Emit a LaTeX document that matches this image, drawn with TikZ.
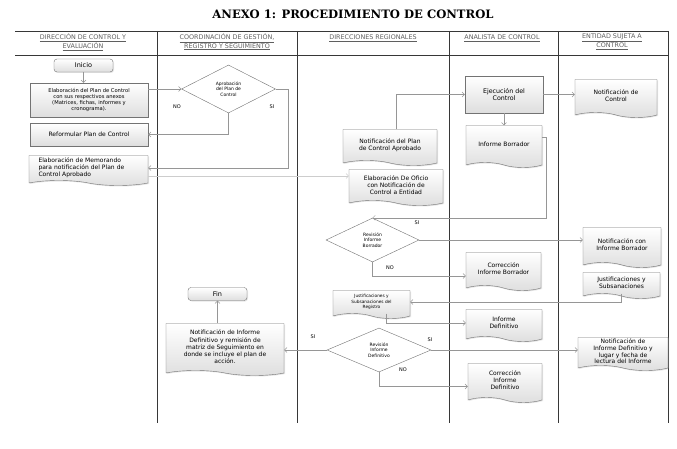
\documentclass[tikz,border=0pt]{standalone}
\usepackage{fontspec}
\setmainfont{DejaVu Sans}
\newfontfamily\titlefont{DejaVu Serif}
\usetikzlibrary{positioning,shapes.geometric,shapes.symbols,arrows.meta,shadows,calc}
\definecolor{myline}{RGB}{150,150,150}
\definecolor{myfaint}{RGB}{205,205,205}
\definecolor{mylane}{RGB}{55,55,55}
\definecolor{myedge}{RGB}{115,115,115}
\definecolor{myhead}{RGB}{95,95,95}
\definecolor{myshade}{RGB}{222,222,222}

\begin{document}
\begin{tikzpicture}[x=1pt,y=-1pt,
    every node/.style={font=\fontsize{6}{7}\selectfont,align=center,inner sep=1pt},
    procnode/.style={draw=myedge,top color=white,bottom color=myshade,
      drop shadow={opacity=0.2,shadow xshift=1pt,shadow yshift=-1pt}},
    docnode/.style={procnode,tape,tape bend top=none,tape bend bottom=out and in,tape bend height=5pt},
    termnode/.style={procnode,rounded corners=3pt,minimum width=59pt,minimum height=13pt,font=\fontsize{6.5}{7.5}\selectfont},
    decnode/.style={draw=myedge,fill=white,diamond,inner sep=0pt,font=\fontsize{4.5}{5.5}\selectfont},
    hdnode/.style={text=myhead,font=\fontsize{6.4}{7.4}\selectfont},
    lbl/.style={font=\fontsize{5}{6}\selectfont},
    flow/.style={draw=myline,-{Straight Barb[length=2.5pt,width=5pt]}},
    lane/.style={draw=mylane,line width=0.6pt}
  ]
  \useasboundingbox (0,0) rectangle (677,449);

  % the title
  \node[font=\titlefont\bfseries\fontsize{11.6}{13}\selectfont] (title) at (353,14) {ANEXO 1: PROCEDIMIENTO DE CONTROL};

  % the lanes
  \draw[lane] (15,31) -- (668,31) (15,55) -- (668,55);
  \foreach \x in {157,297,449,558,668}
    \draw[lane] (\x,31) -- (\x,423);
  \node[hdnode] (h1) at (83,42) {\underline{DIRECCIÓN DE CONTROL Y}\\\underline{EVALUACIÓN}};
  \node[hdnode] (h2) at (227,42) {\underline{COORDINACIÓN DE GESTIÓN,}\\\underline{REGISTRO Y SEGUIMIENTO}};
  \node[hdnode] (h3) at (373,38) {\underline{DIRECCIONES REGIONALES}};
  \node[hdnode] (h4) at (502,38) {\underline{ANALISTA DE CONTROL}};
  \node[hdnode] (h5) at (612,42) {\underline{ENTIDAD SUJETA A}\\\underline{CONTROL}};

  % Direccion de Control y Evaluacion
  \node[termnode] (inicio) at (83.5,65.5) {Inicio};
  \node[procnode,minimum width=118pt,minimum height=34pt,font=\fontsize{5.2}{6.3}\selectfont] (elab) at (89,100) {Elaboración del Plan de Control\\con sus respectivos anexos\\(Matrices, fichas, informes y\\cronograma).};
  \node[procnode,minimum width=118pt,minimum height=23pt,font=\fontsize{6}{7}\selectfont] (reform) at (89,134.5) {Reformular Plan de Control};
  \node[docnode,minimum width=119pt,minimum height=30pt,align=left,text width=100pt,font=\fontsize{6}{7.2}\selectfont] (memo) at (88.5,168) {Elaboración de Memorando\\para notificación del Plan de\\Control Aprobado};

  % Coordinacion de Gestion
  \node[decnode,minimum width=94pt,minimum height=48pt] (aprob) at (228.5,89) {Aprobación\\del Plan de\\Control};
  \node[termnode] (fin) at (217.5,294) {Fin};
  \node[docnode,minimum width=118pt,minimum height=52pt,font=\fontsize{6}{7.2}\selectfont] (notifdef) at (225,347) {Notificación de Informe\\Definitivo y remisión de\\matriz de Seguimiento en\\donde se incluye el plan de\\acción.};

  % Direcciones Regionales
  \node[docnode,minimum width=94pt,minimum height=36pt] (notifplan) at (390,145) {Notificación del Plan\\de Control Aprobado};
  \node[docnode,minimum width=94pt,minimum height=36pt] (oficio) at (396,185) {Elaboración De Oficio\\con Notificación de\\Control a Entidad};
  \node[decnode,minimum width=93pt,minimum height=44pt] (revborr) at (372.5,240) {Revisión\\Informe\\Borrador};
  \node[docnode,minimum width=77pt,minimum height=28pt,font=\fontsize{4.3}{5.3}\selectfont] (registro) at (371.5,302) {Justificaciones y\\Subsanaciones del\\Registro};
  \node[decnode,minimum width=104pt,minimum height=44pt] (revdef) at (379,350) {Revisión\\Informe\\Definitivo};

  % Analista de Control
  \node[procnode,minimum width=78pt,minimum height=37pt,font=\fontsize{6.3}{7.5}\selectfont] (ejec) at (504,94.5) {Ejecución del\\Control};
  \node[docnode,minimum width=76pt,minimum height=42pt] (borr) at (504,144) {Informe Borrador};
  \node[docnode,minimum width=75pt,minimum height=38pt] (corrborr) at (503.5,269) {Corrección\\Informe Borrador};
  \node[docnode,minimum width=76pt,minimum height=32pt] (infdef) at (504,323) {Informe\\Definitivo};
  \node[docnode,minimum width=74pt,minimum height=39pt] (corrdef) at (505,380.5) {Corrección\\Informe\\Definitivo};

  % Entidad sujeta a Control
  \node[docnode,minimum width=82pt,minimum height=38pt] (notifctl) at (616,96) {Notificación de\\Control};
  \node[docnode,minimum width=78pt,minimum height=40pt] (notifborr) at (622,245) {Notificación con\\Informe Borrador};
  \node[docnode,minimum width=77pt,minimum height=26pt] (justif) at (621.5,283) {Justificaciones y\\Subsanaciones};
  \node[docnode,minimum width=90pt,minimum height=33pt,font=\fontsize{6}{6.6}\selectfont] (notifdef2) at (623,351.5) {Notificación de\\Informe Definitivo y\\lugar y fecha de\\lectura del Informe};

  % the answers
  \node[lbl] (no1) at (177,107) {NO};
  \node[lbl] (si1) at (272,107) {SI};
  \node[lbl] (si2) at (417,223) {SI};
  \node[lbl] (no2) at (390,268) {NO};
  \node[lbl] (si3) at (313,337) {SI};
  \node[lbl] (si4) at (430,340) {SI};
  \node[lbl] (no3) at (403,370) {NO};

  % the edges
  \draw[flow] (inicio.south) -- (inicio.south |- elab.north);
  \draw[flow] (aprob.west -| elab.east) -- (aprob.west);
  \draw[flow] (aprob.south) |- (reform.east);
  \draw[flow] (aprob.east) -- ++(12,0) |- (memo.east);
  \draw[flow,draw=myfaint] ([yshift=-8pt]memo.east) -- ([yshift=-8pt]memo.east -| oficio.west);
  \draw[flow] ([xshift=6pt]notifplan.north) |- (ejec.west);
  \draw[flow] (ejec.east) -- (ejec.east -| notifctl.west);
  \draw[flow] (ejec.south) -- (borr.north);
  \draw[flow] ([yshift=7pt]borr.east) -- ++(4,0) |- (revborr.north);
  \draw[flow] (revborr.east) -- (revborr.east -| notifborr.west);
  \draw[flow] (revborr.south) |- ([yshift=-7pt]corrborr.west);
  \draw[flow] (justif.south) |- (registro.east);
  \draw[flow] ([xshift=15pt]registro.south) |- (infdef.west);
  \draw[flow] (revdef.east) -- (revdef.east -| notifdef2.west);
  \draw[flow] (revdef.west) -- (revdef.west -| notifdef.east);
  \draw[flow] (revdef.south) |- ([yshift=-6pt]corrdef.west);
  \draw[flow] (fin.south |- notifdef.north) -- (fin.south);
\end{tikzpicture}
\end{document}
